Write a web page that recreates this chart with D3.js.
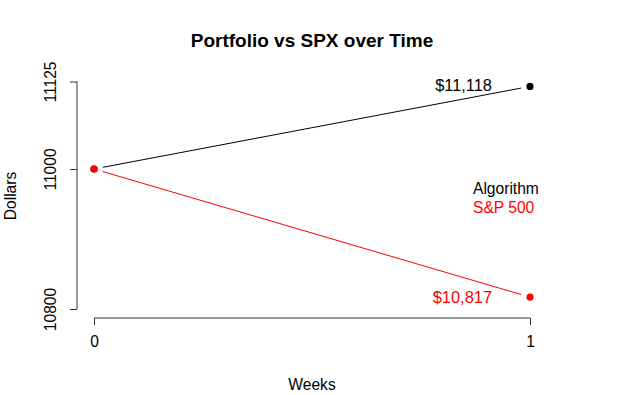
<!DOCTYPE html>
<html>
<head>
<meta charset="utf-8">
<script src="https://cdn.jsdelivr.net/npm/d3@7"></script>
<style>
  body { margin: 0; background: #fff; }
  text { font-family: "Liberation Sans", Arial, Helvetica, sans-serif; }
</style>
</head>
<body>
<svg id="graph" width="625" height="395"></svg>
<script>
//Data
let weeks = [0, 1];
let algorithm = [11000, 11118];
let spx = [11000, 10817];
let yTicks = [10800, 11000, 11125];
let xTicks = [0, 1];
let seriesNames = ["Algorithm", "S&P 500"];
let seriesColors = ["black", "red"];

let svg = d3.select("#graph");
let fs = 15.6;

//scales (R style, plot region fixed)
let x = d3.scaleLinear().domain([0, 1]).range([94, 530]);
let y = d3.scaleLinear().domain([11000, 11125]).range([169, 81.5]);

//title
svg.append("text").attr("x", 312).attr("y", 47).attr("text-anchor", "middle")
  .attr("font-weight", "bold").attr("font-size", 19).text("Portfolio vs SPX over Time");

//y axis
let yaxis = svg.append("g").attr("transform", "translate(77,0)")
  .call(d3.axisLeft(y).tickValues(yTicks).tickSize(7).tickSizeOuter(0).tickFormat(d3.format("d")));
yaxis.select(".domain").attr("stroke", "#333").attr("d", "M0," + y(10800) + "V" + y(11125));
yaxis.selectAll(".tick line").attr("stroke", "#333");
yaxis.selectAll(".tick text").attr("font-size", fs).attr("fill", "black")
  .attr("x", null).attr("dy", null).attr("text-anchor", "middle")
  .attr("transform", "translate(-21,0) rotate(-90)")
  .attr("font-family", "Liberation Sans, Arial, sans-serif");

//x axis
let xaxis = svg.append("g").attr("transform", "translate(0,318)")
  .call(d3.axisBottom(x).tickValues(xTicks).tickSize(7).tickSizeOuter(0).tickFormat(d3.format("d")));
xaxis.select(".domain").attr("stroke", "#333").attr("d", "M" + x(0) + ",0H" + x(1));
xaxis.selectAll(".tick line").attr("stroke", "#333");
xaxis.selectAll(".tick text").attr("font-size", fs).attr("fill", "black")
  .attr("y", 29).attr("dy", null).attr("font-family", "Liberation Sans, Arial, sans-serif");

//axis names
svg.append("text").attr("x", 312).attr("y", 390).attr("text-anchor", "middle")
  .attr("font-size", fs).text("Weeks");
svg.append("text").attr("transform", "translate(16,196) rotate(-90)").attr("text-anchor", "middle")
  .attr("font-size", fs).text("Dollars");

//lines with gaps at the points (type = "b")
let gap = 9;
function drawSeries(vals, color) {
  let pts = weeks.map(function (w, i) { return [x(w), y(vals[i])]; });
  for (let i = 0; i < pts.length - 1; i++) {
    let dx = pts[i + 1][0] - pts[i][0], dy = pts[i + 1][1] - pts[i][1];
    let len = Math.sqrt(dx * dx + dy * dy);
    let ux = dx / len, uy = dy / len;
    svg.append("line")
      .attr("x1", pts[i][0] + ux * gap).attr("y1", pts[i][1] + uy * gap)
      .attr("x2", pts[i + 1][0] - ux * gap).attr("y2", pts[i + 1][1] - uy * gap)
      .attr("stroke", color).attr("stroke-width", 1);
  }
  svg.selectAll(null).data(pts).enter().append("circle")
    .attr("cx", function (d) { return d[0]; }).attr("cy", function (d) { return d[1]; })
    .attr("r", 3.6).attr("fill", color);
}
drawSeries(algorithm, seriesColors[0]);
drawSeries(spx, seriesColors[1]);

//end value labels
let fmt = d3.format("$,");
svg.append("text").attr("x", 492).attr("y", y(algorithm[1]) + 5).attr("text-anchor", "end")
  .attr("font-size", 16.4).attr("fill", seriesColors[0]).text(fmt(algorithm[1]));
svg.append("text").attr("x", 492).attr("y", y(spx[1]) + 6).attr("text-anchor", "end")
  .attr("font-size", 16.4).attr("fill", seriesColors[1]).text(fmt(spx[1]));

//legend (no box)
svg.selectAll(".legend").data(seriesNames).enter().append("text")
  .attr("class", "legend")
  .attr("x", 473).attr("y", function (d, i) { return 194 + i * 19; })
  .attr("font-size", fs).attr("fill", function (d, i) { return seriesColors[i]; })
  .text(function (d) { return d; });
</script>
</body>
</html>
